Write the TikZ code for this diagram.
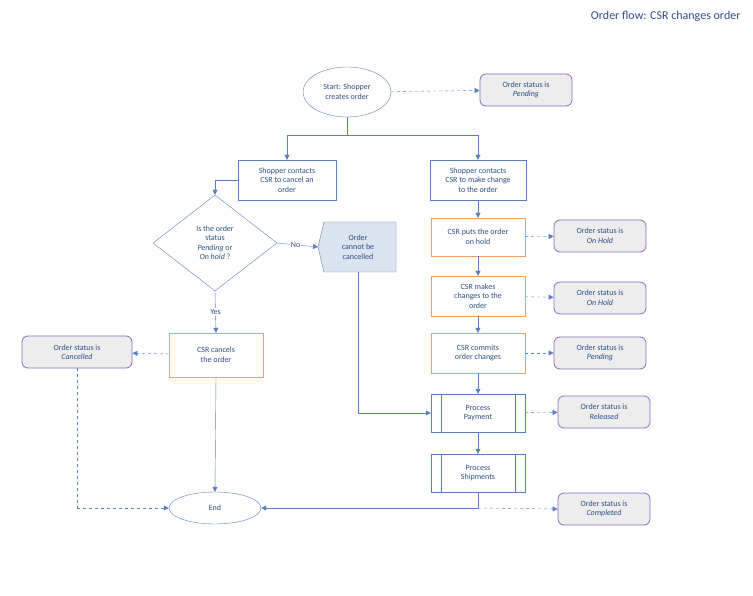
\documentclass[tikz,border=0pt]{standalone}
\usepackage{fontspec}
\setmainfont{Carlito}
\usetikzlibrary{shapes.geometric,arrows.meta,positioning,calc}
\definecolor{flowblue}{HTML}{5A7FC0}
\definecolor{csrorange}{HTML}{F0A060}
\definecolor{statpurple}{HTML}{8C6BC0}
\definecolor{statgray}{HTML}{EDEDED}
\definecolor{titleblue}{HTML}{2F4A8A}
\definecolor{txtblue}{HTML}{2E4F86}
\begin{document}
\begin{tikzpicture}
	[x=1pt,y=-1pt,font=\fontsize{8}{9.5}\selectfont,text=txtblue,
	step box/.style={rectangle,draw=flowblue,fill=white,minimum width=96pt,minimum height=40pt,align=center},
	csr box/.style={rectangle,draw=csrorange,fill=white,minimum width=94pt,minimum height=40pt,align=center},
	status/.style={rectangle,rounded corners=6pt,draw=statpurple,thick,fill=statgray,minimum width=92pt,minimum height=32pt,align=center},
	term/.style={ellipse,draw=flowblue,fill=white,align=center},
	flow/.style={draw=flowblue,-{Triangle[length=5pt,width=5pt]}},
	note/.style={flow,dashed}
	]
	\useasboundingbox (0,0) rectangle (753,596);
	\node[font=\fontsize{12}{14}\selectfont,text=titleblue,anchor=east] (title) at (744,16) {Order flow: CSR changes order};

	\node[term,minimum width=88pt,minimum height=50pt] (start) at (347,92) {Start: Shopper\\creates order};
	\node[status] (pending) at (526,90) {Order status is\\\textit{Pending}};
	\node[step box,minimum width=98pt] (cancel) at (287,180) {Shopper contacts\\CSR to cancel an\\order};
	\node[step box] (change) at (478,180) {Shopper contacts\\CSR to make change\\to the order};
	\node[diamond,draw=flowblue,fill=white,aspect=1.3,inner sep=0pt,minimum width=124pt,minimum height=96pt,align=center] (ask) at (215,243) {Is the order\\status\\\textit{Pending} or\\\textit{On hold} ?};
	\draw[draw=flowblue!60!gray,fill=flowblue!22] (318,247) -- (324,222) -- (396,222) -- (396,272) -- (324,272) -- cycle;
	\node[align=center] (nocancel) at (358,247) {Order\\cannot be\\cancelled};
	\node[csr box,minimum height=44pt] (docancel) at (216,355) {CSR cancels\\the order};
	\node[status,minimum width=110pt] (cancelled) at (77,352) {Order status is\\\textit{Cancelled}};
	\node[term,minimum width=92pt,minimum height=32pt] (end) at (215,508) {End};

	\node[csr box,minimum height=38pt] (hold) at (478,237) {CSR puts the order\\on hold};
	\node[status] (onhold1) at (600,236) {Order status is\\\textit{On Hold}};
	\node[csr box] (edit) at (478,296) {CSR makes\\changes to the\\order};
	\node[status] (onhold2) at (600,298) {Order status is\\\textit{On Hold}};
	\node[csr box] (commit) at (478,353) {CSR commits\\order changes};
	\node[status] (pending2) at (600,353) {Order status is\\\textit{Pending}};
	\node[step box,minimum width=94pt,minimum height=38pt] (pay) at (478,413) {Process\\Payment};
	\draw[flowblue] ($(pay.north west)+(10,0)$) -- ($(pay.south west)+(10,0)$) ($(pay.north east)+(-10,0)$) -- ($(pay.south east)+(-10,0)$);
	\node[status] (released) at (604,412) {Order status is\\\textit{Released}};
	\node[step box,minimum width=94pt,minimum height=38pt] (ship) at (478,473) {Process\\Shipments};
	\draw[flowblue] ($(ship.north west)+(10,0)$) -- ($(ship.south west)+(10,0)$) ($(ship.north east)+(-10,0)$) -- ($(ship.south east)+(-10,0)$);
	\node[status] (completed) at (604,509) {Order status is\\\textit{Completed}};

	% connectors
	\draw[note] (start) -- (pending);
	\draw[flow] (start.south) |- (287,135) -- (cancel.north);
	\draw[flow] (start.south) |- (478,135) -- (change.north);
	\draw[flow] (cancel.west) -| (ask.north);
	\draw[flow] (ask.east) -- node[fill=white,inner sep=1pt,pos=.45]{No} (318,247);
	\draw[flow] (ask.south) -- node[fill=white,inner sep=1pt]{Yes} (docancel.north);
	\draw[note] (docancel) -- (cancelled);
	\draw[note,-] (cancelled.south) -- (77,508);
	\draw[note] (77,508) -- (end.west);
	\draw[flow] (docancel.south) -- (end.north);
	\draw[flow] (change) -- (hold);
	\draw[note] (hold) -- (onhold1);
	\draw[flow] (hold) -- (edit);
	\draw[note] (edit) -- (onhold2);
	\draw[flow] (edit) -- (commit);
	\draw[note] (commit) -- (pending2);
	\draw[flow] (commit) -- (pay);
	\draw[note] (pay) -- (released);
	\draw[flow] (pay) -- (ship);
	\draw[flow] (358,272) |- (pay.west);
	\draw[flow] (ship.south) |- (end.east);
	\draw[note] (478,508) -- (completed.west);
\end{tikzpicture}
\end{document}
